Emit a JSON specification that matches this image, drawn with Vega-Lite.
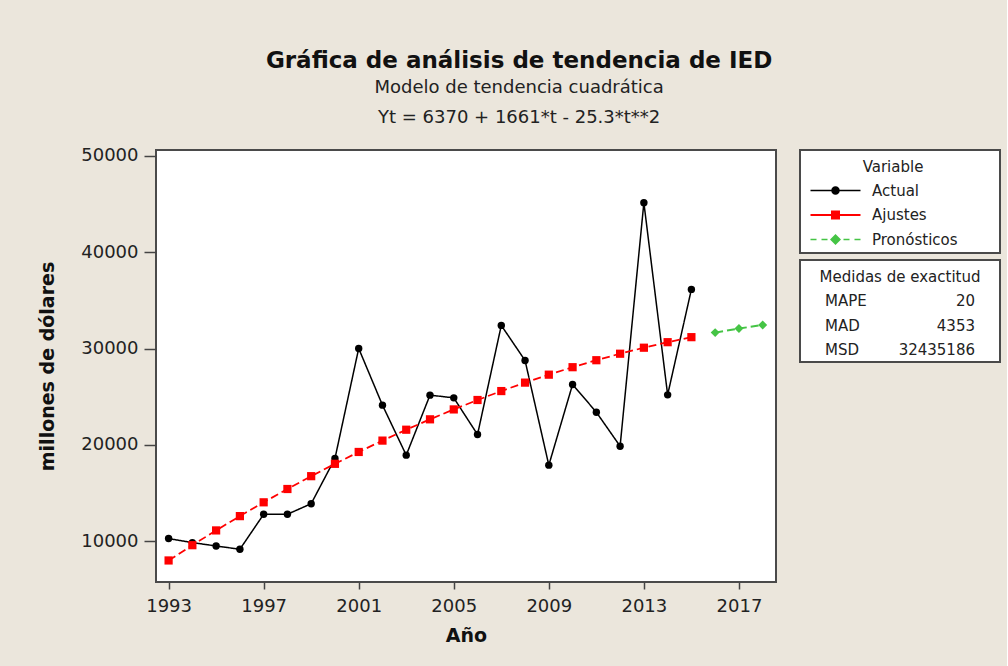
{
  "$schema": "https://vega.github.io/schema/vega-lite/v6.json",
  "padding": {"left": 37, "top": 49, "right": 6, "bottom": 20},
  "background": "#ebe6dc",
  "title": {
    "text": "Gráfica de análisis de tendencia de IED",
    "subtitle": ["Modelo de tendencia cuadrática", "Yt = 6370 + 1661*t - 25.3*t**2"],
    "anchor": "middle",
    "frame": "bounds",
    "font": "DejaVu Sans",
    "fontSize": 23,
    "fontWeight": "bold",
    "color": "#111",
    "subtitleFont": "DejaVu Sans",
    "subtitleFontSize": 18,
    "subtitleColor": "#222",
    "subtitlePadding": 6,
    "subtitleLineHeight": 30,
    "offset": 19
  },
  "datasets": {
    "serie": [
      {"anio": 1993, "valor": 10280, "variable": "Actual"},
      {"anio": 1994, "valor": 9860, "variable": "Actual"},
      {"anio": 1995, "valor": 9510, "variable": "Actual"},
      {"anio": 1996, "valor": 9170, "variable": "Actual"},
      {"anio": 1997, "valor": 12800, "variable": "Actual"},
      {"anio": 1998, "valor": 12800, "variable": "Actual"},
      {"anio": 1999, "valor": 13900, "variable": "Actual"},
      {"anio": 2000, "valor": 18590, "variable": "Actual"},
      {"anio": 2001, "valor": 30020, "variable": "Actual"},
      {"anio": 2002, "valor": 24130, "variable": "Actual"},
      {"anio": 2003, "valor": 18940, "variable": "Actual"},
      {"anio": 2004, "valor": 25170, "variable": "Actual"},
      {"anio": 2005, "valor": 24890, "variable": "Actual"},
      {"anio": 2006, "valor": 21080, "variable": "Actual"},
      {"anio": 2007, "valor": 32410, "variable": "Actual"},
      {"anio": 2008, "valor": 28770, "variable": "Actual"},
      {"anio": 2009, "valor": 17900, "variable": "Actual"},
      {"anio": 2010, "valor": 26280, "variable": "Actual"},
      {"anio": 2011, "valor": 23400, "variable": "Actual"},
      {"anio": 2012, "valor": 19870, "variable": "Actual"},
      {"anio": 2013, "valor": 45150, "variable": "Actual"},
      {"anio": 2014, "valor": 25200, "variable": "Actual"},
      {"anio": 2015, "valor": 36150, "variable": "Actual"},
      {"anio": 1993, "valor": 8006, "variable": "Ajustes"},
      {"anio": 1994, "valor": 9591, "variable": "Ajustes"},
      {"anio": 1995, "valor": 11125, "variable": "Ajustes"},
      {"anio": 1996, "valor": 12609, "variable": "Ajustes"},
      {"anio": 1997, "valor": 14043, "variable": "Ajustes"},
      {"anio": 1998, "valor": 15425, "variable": "Ajustes"},
      {"anio": 1999, "valor": 16757, "variable": "Ajustes"},
      {"anio": 2000, "valor": 18039, "variable": "Ajustes"},
      {"anio": 2001, "valor": 19270, "variable": "Ajustes"},
      {"anio": 2002, "valor": 20450, "variable": "Ajustes"},
      {"anio": 2003, "valor": 21580, "variable": "Ajustes"},
      {"anio": 2004, "valor": 22659, "variable": "Ajustes"},
      {"anio": 2005, "valor": 23687, "variable": "Ajustes"},
      {"anio": 2006, "valor": 24665, "variable": "Ajustes"},
      {"anio": 2007, "valor": 25593, "variable": "Ajustes"},
      {"anio": 2008, "valor": 26469, "variable": "Ajustes"},
      {"anio": 2009, "valor": 27295, "variable": "Ajustes"},
      {"anio": 2010, "valor": 28071, "variable": "Ajustes"},
      {"anio": 2011, "valor": 28796, "variable": "Ajustes"},
      {"anio": 2012, "valor": 29470, "variable": "Ajustes"},
      {"anio": 2013, "valor": 30094, "variable": "Ajustes"},
      {"anio": 2014, "valor": 30667, "variable": "Ajustes"},
      {"anio": 2015, "valor": 31189, "variable": "Ajustes"},
      {"anio": 2016, "valor": 31661, "variable": "Pronósticos"},
      {"anio": 2017, "valor": 32083, "variable": "Pronósticos"},
      {"anio": 2018, "valor": 32453, "variable": "Pronósticos"}
    ],
    "variables": [
      {"variable": "Actual"},
      {"variable": "Ajustes"},
      {"variable": "Pronósticos"}
    ],
    "medidas": [
      {"fila": "MAPE", "valor": "20"},
      {"fila": "MAD", "valor": "4353"},
      {"fila": "MSD", "valor": "32435186"}
    ]
  },
  "resolve": {
    "scale": {"color": "independent", "shape": "independent"},
    "legend": {"color": "independent", "shape": "independent"}
  },
  "hconcat": [
    {
      "width": 620,
      "height": 432,
      "data": {"name": "serie"},
      "encoding": {
        "x": {
          "field": "anio",
          "type": "quantitative",
          "scale": {"domain": [1992.47, 2018.56], "nice": false, "zero": false},
          "axis": {
            "title": "Año",
            "values": [1993, 1997, 2001, 2005, 2009, 2013, 2017],
            "format": "d",
            "tickSize": 7,
            "labelPadding": 8,
            "titlePadding": 11,
            "labelFlush": false,
            "labelOverlap": false
          }
        },
        "y": {
          "field": "valor",
          "type": "quantitative",
          "scale": {"domain": [5770, 50620], "nice": false, "zero": false},
          "axis": {
            "title": "millones de dólares",
            "values": [10000, 20000, 30000, 40000, 50000],
            "format": "d",
            "tickSize": 12,
            "labelPadding": 6,
            "titlePadding": 23.5
          }
        },
        "color": {
          "field": "variable",
          "type": "nominal",
          "scale": {"domain": ["Actual", "Ajustes", "Pronósticos"], "range": ["#000000", "#ff0000", "#45c445"]},
          "legend": null
        }
      },
      "layer": [
        {
          "mark": {"type": "line"},
          "encoding": {
            "strokeDash": {
              "field": "variable",
              "type": "nominal",
              "scale": {"domain": ["Actual", "Ajustes", "Pronósticos"], "range": [[1, 0], [8, 4], [8, 4]]},
              "legend": null
            },
            "strokeWidth": {
              "field": "variable",
              "type": "nominal",
              "scale": {"domain": ["Actual", "Ajustes", "Pronósticos"], "range": [1.5, 2, 2]},
              "legend": null
            }
          }
        },
        {
          "mark": {"type": "point", "filled": true, "opacity": 1},
          "encoding": {
            "shape": {
              "field": "variable",
              "type": "nominal",
              "scale": {"domain": ["Actual", "Ajustes", "Pronósticos"], "range": ["circle", "square", "diamond"]},
              "legend": null
            },
            "size": {
              "field": "variable",
              "type": "nominal",
              "scale": {"domain": ["Actual", "Ajustes", "Pronósticos"], "range": [55, 80, 95]},
              "legend": null
            }
          }
        }
      ]
    },
    {
      "vconcat": [
        {
          "width": 200,
          "height": 103,
          "data": {"name": "variables"},
          "transform": [{"filter": "datum.variable === 'ninguna'"}],
          "mark": {"type": "point", "filled": true, "opacity": 1},
          "encoding": {
            "y": {
              "field": "variable",
              "type": "nominal",
              "scale": {"type": "point", "domain": ["Actual", "Ajustes", "Pronósticos"]},
              "axis": null
            },
            "color": {
              "field": "variable",
              "type": "nominal",
              "title": "Variable",
              "scale": {"domain": ["Actual", "Ajustes", "Pronósticos"], "range": ["#000000", "#ff0000", "#45c445"]},
              "legend": {
                "orient": "none",
                "legendX": 28,
                "legendY": 10,
                "padding": 0,
                "titleAnchor": "middle",
                "titleFont": "DejaVu Sans",
                "titleFontSize": 15,
                "titleFontWeight": "normal",
                "titleColor": "#222",
                "titlePadding": 8,
                "labelFont": "DejaVu Sans",
                "labelFontSize": 15,
                "labelColor": "#222",
                "labelOffset": 29,
                "symbolSize": 100,
                "symbolOpacity": 1,
                "symbolStrokeWidth": 0,
                "rowPadding": 8.5
              }
            },
            "shape": {
              "field": "variable",
              "type": "nominal",
              "title": "Variable",
              "scale": {
                "domain": ["Actual", "Ajustes", "Pronósticos"],
                "range": [
                  "M-5,-0.15H-0.8V0.15H-5Z M0.8,-0.15H5V0.15H0.8Z M-0.85,0A0.85,0.85 0 1,1 0.85,0A0.85,0.85 0 1,1 -0.85,0Z",
                  "M-5,-0.18H-0.9V0.18H-5Z M0.9,-0.18H5V0.18H0.9Z M-0.9,-0.9H0.9V0.9H-0.9Z",
                  "M-5,-0.15H-3.8V0.15H-5Z M-2.8,-0.15H-1.6V0.15H-2.8Z M1.6,-0.15H2.8V0.15H1.6Z M3.8,-0.15H5V0.15H3.8Z M0,-1.1L1.1,0L0,1.1L-1.1,0Z"
                ]
              }
            }
          }
        },
        {
          "width": 200,
          "height": 102,
          "encoding": {
            "y": {
              "field": "fila",
              "type": "nominal",
              "scale": {"type": "point", "domain": ["Medidas de exactitud", "MAPE", "MAD", "MSD"], "padding": 0.6, "align": 0.59},
              "axis": null
            }
          },
          "layer": [
            {
              "data": {"values": [{"fila": "Medidas de exactitud"}]},
              "mark": {"type": "text", "font": "DejaVu Sans", "fontSize": 15, "color": "#222", "baseline": "middle", "align": "center"},
              "encoding": {"text": {"field": "fila"}}
            },
            {
              "data": {"name": "medidas"},
              "mark": {"type": "text", "font": "DejaVu Sans", "fontSize": 15, "color": "#222", "baseline": "middle", "align": "left"},
              "encoding": {
                "x": {"datum": "nombre", "type": "nominal", "scale": {"type": "point", "domain": ["nombre", "valor"], "padding": 0.1667}, "axis": null},
                "text": {"field": "fila"}
              }
            },
            {
              "data": {"name": "medidas"},
              "mark": {"type": "text", "font": "DejaVu Sans", "fontSize": 15, "color": "#222", "baseline": "middle", "align": "right"},
              "encoding": {
                "x": {"datum": "valor", "type": "nominal", "axis": null},
                "text": {"field": "valor"}
              }
            }
          ]
        }
      ],
      "spacing": 7,
      "bounds": "flush"
    }
  ],
  "spacing": 24,
  "bounds": "flush",
  "config": {
    "font": "DejaVu Sans",
    "view": {"stroke": "#4a4a4a", "strokeWidth": 2, "fill": "#ffffff"},
    "axis": {
      "labelFont": "DejaVu Sans",
      "labelFontSize": 18,
      "labelColor": "#222",
      "titleFont": "DejaVu Sans",
      "titleFontSize": 19,
      "titleFontWeight": "bold",
      "titleColor": "#111",
      "tickColor": "#444",
      "tickWidth": 1.5,
      "grid": false,
      "domain": false
    }
  }
}
